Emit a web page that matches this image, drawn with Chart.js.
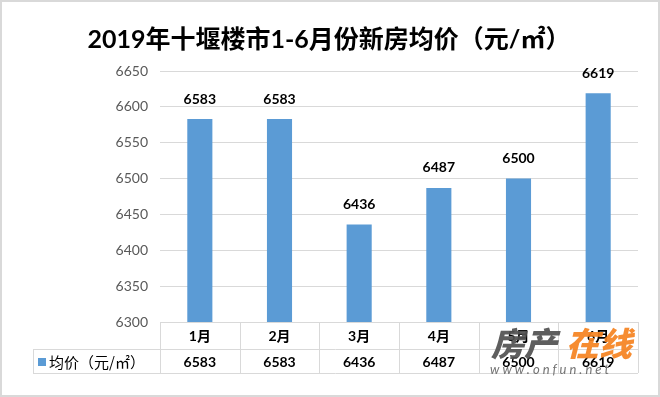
<!DOCTYPE html>
<html>
<head>
<meta charset="utf-8">
<script src="https://cdn.jsdelivr.net/npm/chart.js@4/dist/chart.umd.min.js"></script>
<style>
  body { margin: 0; background: #fff; }
  canvas { display: block; }
</style>
</head>
<body>
<canvas id="chart" width="660" height="397"></canvas>
<script>
const title = "2019年十堰楼市1-6月份新房均价（元/㎡）";
const months = ["1月", "2月", "3月", "4月", "5月", "6月"];
const seriesName = "均价（元/㎡）";
const prices = [6583, 6583, 6436, 6487, 6500, 6619];
const yMin = 6300, yMax = 6650, yStep = 50;

const blue = "#5B9BD5";
const lineColor = "#D9D9D9";
const numFont = '"Lato", "Noto Sans CJK SC", sans-serif';
const cjkFont = '"Noto Sans CJK SC", "Lato", sans-serif';

// title, data labels, data table, frame and watermark
const extras = {
  id: "extras",
  afterDatasetsDraw(chart) {
    const ctx = chart.ctx;
    const meta = chart.getDatasetMeta(0);
    ctx.save();
    ctx.fillStyle = "#000";
    ctx.font = "bold 14px " + numFont;
    ctx.textAlign = "center";
    ctx.textBaseline = "middle";
    meta.data.forEach((bar, i) => {
      ctx.fillText(prices[i], bar.x, bar.y - 20);
    });
    ctx.restore();
  },
  afterDraw(chart) {
    const ctx = chart.ctx;
    const area = chart.chartArea;
    const x = chart.scales.x;
    const half = (area.right - area.left) / months.length / 2;

    ctx.save();
    // outer frame
    ctx.strokeStyle = lineColor;
    ctx.lineWidth = 2;
    ctx.strokeRect(1, 1, 658, 395);

    // title
    ctx.fillStyle = "#000";
    ctx.font = "bold 25px " + numFont;
    ctx.textAlign = "center";
    ctx.textBaseline = "middle";
    ctx.fillText(title, 329, 40);

    // data table
    const top = area.bottom, mid = 349, bottom = 373, legLeft = 33;
    ctx.strokeStyle = lineColor;
    ctx.lineWidth = 1;
    ctx.beginPath();
    ctx.moveTo(area.left, top + 0.5); ctx.lineTo(area.right, top + 0.5);
    ctx.moveTo(legLeft, mid + 0.5); ctx.lineTo(area.right, mid + 0.5);
    ctx.moveTo(legLeft, bottom + 0.5); ctx.lineTo(area.right, bottom + 0.5);
    ctx.moveTo(legLeft + 0.5, mid); ctx.lineTo(legLeft + 0.5, bottom);
    for (let i = 0; i <= months.length; i++) {
      const px = Math.round(area.left + i * half * 2) + 0.5;
      ctx.moveTo(px, top); ctx.lineTo(px, bottom);
    }
    ctx.stroke();

    ctx.fillStyle = "#000";
    months.forEach((m, i) => {
      const cx = x.getPixelForValue(i);
      ctx.font = "bold 14px " + numFont;
      ctx.fillText(m, cx, (top + mid) / 2 + 1);
      ctx.fillText(prices[i], cx, (mid + bottom) / 2 + 1);
    });

    // legend key
    ctx.fillStyle = blue;
    ctx.fillRect(38, 358, 8, 8);
    ctx.fillStyle = "#000";
    ctx.textAlign = "left";
    ctx.font = "15px " + cjkFont;
    ctx.fillText(seriesName, 49, 362);

    // watermark
    ctx.globalAlpha = 0.92;
    ctx.textAlign = "left";
    ctx.font = "italic 900 33px " + cjkFont;
    ctx.fillStyle = "#505050";
    ctx.fillText("房产", 491, 343);
    ctx.fillStyle = "#F58220";
    ctx.fillText("在线", 566, 343);
    ctx.fillStyle = "#666";
    ctx.font = "italic 13px " + numFont;
    ctx.letterSpacing = "3px";
    ctx.fillText("www.onfun.net", 490, 370);
    ctx.restore();
  }
};

new Chart(document.getElementById("chart"), {
  type: "bar",
  data: {
    labels: months,
    datasets: [{
      label: seriesName,
      data: prices,
      backgroundColor: blue,
      barPercentage: 0.315,
      categoryPercentage: 1
    }]
  },
  options: {
    responsive: false,
    animation: false,
    devicePixelRatio: 1,
    layout: { padding: { left: 0, right: 22, top: 71, bottom: 75 } },
    plugins: {
      legend: { display: false },
      title: { display: false },
      tooltip: { enabled: false }
    },
    scales: {
      x: { display: false },
      y: {
        min: yMin,
        max: yMax,
        afterFit: s => { s.width = 160; },
        border: { display: false },
        grid: { color: lineColor, drawTicks: false },
        ticks: {
          stepSize: yStep,
          padding: 12,
          color: "#595959",
          font: { family: numFont, size: 14 },
          callback: v => String(v)
        }
      }
    }
  },
  plugins: [extras]
});
</script>
</body>
</html>
